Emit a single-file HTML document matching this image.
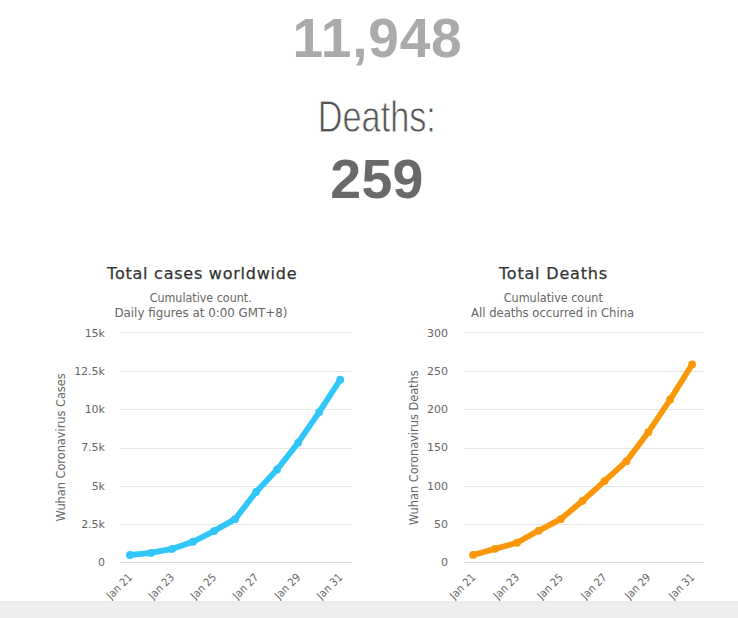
<!DOCTYPE html>
<html><head><meta charset="utf-8"><title>Coronavirus</title>
<style>
html,body{margin:0;padding:0;background:#fff;}
body{width:738px;height:618px;position:relative;overflow:hidden;font-family:"Liberation Sans",sans-serif;}
.num{position:absolute;left:0;width:738px;text-align:center;font-weight:bold;font-size:54.5px;line-height:56px;white-space:nowrap;letter-spacing:0.9px;}
#n1{top:10.1px;color:#aaa;left:8.5px;font-size:55px;letter-spacing:0.8px}
#n2{top:151px;color:#696969;left:8px;font-size:55.5px;letter-spacing:0.3px}
#dl{position:absolute;left:8px;width:738px;text-align:center;top:94px;font-size:44px;line-height:45px;color:#555;white-space:nowrap;}
#dl span{display:inline-block;transform:scaleX(0.778);transform-origin:50% 50%;-webkit-text-stroke:0.8px #fff;}
#foot{position:absolute;left:0;top:601px;width:738px;height:15px;background:#eee;border-top:2px solid #ebebeb;}
svg{position:absolute;left:0;top:0;}
svg text{font-family:"DejaVu Sans","Liberation Sans",sans-serif;}
.al{font-size:11px;fill:#666;}
.ti{font-size:16px;fill:#333;stroke:#333;stroke-width:0.25px;}
.su{font-size:12px;fill:#666;}
.yt{font-size:12px;fill:#666;}
</style></head><body>
<div class="num" id="n1">11,948</div>
<div id="dl"><span>Deaths:</span></div>
<div class="num" id="n2">259</div>
<svg width="738" height="618" viewBox="0 0 738 618">
<path d="M120 332.5H352" stroke="#e6e6e6" stroke-width="1"/>
<path d="M120 371.5H352" stroke="#e6e6e6" stroke-width="1"/>
<path d="M120 409.5H352" stroke="#e6e6e6" stroke-width="1"/>
<path d="M120 448.5H352" stroke="#e6e6e6" stroke-width="1"/>
<path d="M120 486.5H352" stroke="#e6e6e6" stroke-width="1"/>
<path d="M120 524.5H352" stroke="#e6e6e6" stroke-width="1"/>
<path d="M120 562.5H352" stroke="#d0d5e2" stroke-width="1"/>
<text x="105" y="337.00" text-anchor="end" class="al">15k</text>
<text x="105" y="375.13" text-anchor="end" class="al">12.5k</text>
<text x="105" y="413.26" text-anchor="end" class="al">10k</text>
<text x="105" y="451.39" text-anchor="end" class="al">7.5k</text>
<text x="105" y="489.52" text-anchor="end" class="al">5k</text>
<text x="105" y="527.65" text-anchor="end" class="al">2.5k</text>
<text x="105" y="565.78" text-anchor="end" class="al">0</text>
<path d="M129.90 555.00 L150.93 552.96 L171.96 548.92 L192.99 541.73 L214.02 531.09 L235.05 519.13 L256.08 491.99 L277.11 469.48 L298.14 442.73 L319.17 412.10 L340.20 379.71" fill="none" stroke="#30c6fa" stroke-width="5.8" stroke-linejoin="round" stroke-linecap="round"/>
<circle cx="129.90" cy="555.00" r="3.9" fill="#30c6fa"/>
<circle cx="150.93" cy="552.96" r="3.9" fill="#30c6fa"/>
<circle cx="171.96" cy="548.92" r="3.9" fill="#30c6fa"/>
<circle cx="192.99" cy="541.73" r="3.9" fill="#30c6fa"/>
<circle cx="214.02" cy="531.09" r="3.9" fill="#30c6fa"/>
<circle cx="235.05" cy="519.13" r="3.9" fill="#30c6fa"/>
<circle cx="256.08" cy="491.99" r="3.9" fill="#30c6fa"/>
<circle cx="277.11" cy="469.48" r="3.9" fill="#30c6fa"/>
<circle cx="298.14" cy="442.73" r="3.9" fill="#30c6fa"/>
<circle cx="319.17" cy="412.10" r="3.9" fill="#30c6fa"/>
<circle cx="340.20" cy="379.71" r="3.9" fill="#30c6fa"/>
<text transform="translate(132.90 578) rotate(-45)" text-anchor="end" textLength="31" lengthAdjust="spacingAndGlyphs" class="al">Jan 21</text>
<text transform="translate(174.96 578) rotate(-45)" text-anchor="end" textLength="31" lengthAdjust="spacingAndGlyphs" class="al">Jan 23</text>
<text transform="translate(217.02 578) rotate(-45)" text-anchor="end" textLength="31" lengthAdjust="spacingAndGlyphs" class="al">Jan 25</text>
<text transform="translate(259.08 578) rotate(-45)" text-anchor="end" textLength="31" lengthAdjust="spacingAndGlyphs" class="al">Jan 27</text>
<text transform="translate(301.14 578) rotate(-45)" text-anchor="end" textLength="31" lengthAdjust="spacingAndGlyphs" class="al">Jan 29</text>
<text transform="translate(343.20 578) rotate(-45)" text-anchor="end" textLength="31" lengthAdjust="spacingAndGlyphs" class="al">Jan 31</text>
<text x="201.8" y="279.3" text-anchor="middle" textLength="189.4" lengthAdjust="spacing" class="ti">Total cases worldwide</text>
<text x="200.7" y="302" text-anchor="middle" textLength="102" lengthAdjust="spacingAndGlyphs" class="su">Cumulative count.</text>
<text x="200.9" y="317" text-anchor="middle" textLength="173" lengthAdjust="spacingAndGlyphs" class="su">Daily figures at 0:00 GMT+8)</text>
<text transform="translate(65.3 447.4) rotate(-90)" text-anchor="middle" textLength="148" lengthAdjust="spacingAndGlyphs" class="yt">Wuhan Coronavirus Cases</text>
<path d="M464 332.5H704" stroke="#e6e6e6" stroke-width="1"/>
<path d="M464 371.5H704" stroke="#e6e6e6" stroke-width="1"/>
<path d="M464 409.5H704" stroke="#e6e6e6" stroke-width="1"/>
<path d="M464 448.5H704" stroke="#e6e6e6" stroke-width="1"/>
<path d="M464 486.5H704" stroke="#e6e6e6" stroke-width="1"/>
<path d="M464 524.5H704" stroke="#e6e6e6" stroke-width="1"/>
<path d="M464 562.5H704" stroke="#d0d5e2" stroke-width="1"/>
<text x="448" y="337.00" text-anchor="end" class="al">300</text>
<text x="448" y="375.13" text-anchor="end" class="al">250</text>
<text x="448" y="413.26" text-anchor="end" class="al">200</text>
<text x="448" y="451.39" text-anchor="end" class="al">150</text>
<text x="448" y="489.52" text-anchor="end" class="al">100</text>
<text x="448" y="527.65" text-anchor="end" class="al">50</text>
<text x="448" y="565.78" text-anchor="end" class="al">0</text>
<path d="M473.10 554.94 L495.00 548.85 L516.90 542.75 L538.80 530.56 L560.70 519.13 L582.60 500.84 L604.50 481.03 L626.40 461.22 L648.30 432.26 L670.20 399.49 L692.10 364.44" fill="none" stroke="#fc970a" stroke-width="5.8" stroke-linejoin="round" stroke-linecap="round"/>
<circle cx="473.10" cy="554.94" r="3.9" fill="#fc970a"/>
<circle cx="495.00" cy="548.85" r="3.9" fill="#fc970a"/>
<circle cx="516.90" cy="542.75" r="3.9" fill="#fc970a"/>
<circle cx="538.80" cy="530.56" r="3.9" fill="#fc970a"/>
<circle cx="560.70" cy="519.13" r="3.9" fill="#fc970a"/>
<circle cx="582.60" cy="500.84" r="3.9" fill="#fc970a"/>
<circle cx="604.50" cy="481.03" r="3.9" fill="#fc970a"/>
<circle cx="626.40" cy="461.22" r="3.9" fill="#fc970a"/>
<circle cx="648.30" cy="432.26" r="3.9" fill="#fc970a"/>
<circle cx="670.20" cy="399.49" r="3.9" fill="#fc970a"/>
<circle cx="692.10" cy="364.44" r="3.9" fill="#fc970a"/>
<text transform="translate(476.10 578) rotate(-45)" text-anchor="end" textLength="31" lengthAdjust="spacingAndGlyphs" class="al">Jan 21</text>
<text transform="translate(519.90 578) rotate(-45)" text-anchor="end" textLength="31" lengthAdjust="spacingAndGlyphs" class="al">Jan 23</text>
<text transform="translate(563.70 578) rotate(-45)" text-anchor="end" textLength="31" lengthAdjust="spacingAndGlyphs" class="al">Jan 25</text>
<text transform="translate(607.50 578) rotate(-45)" text-anchor="end" textLength="31" lengthAdjust="spacingAndGlyphs" class="al">Jan 27</text>
<text transform="translate(651.30 578) rotate(-45)" text-anchor="end" textLength="31" lengthAdjust="spacingAndGlyphs" class="al">Jan 29</text>
<text transform="translate(695.10 578) rotate(-45)" text-anchor="end" textLength="31" lengthAdjust="spacingAndGlyphs" class="al">Jan 31</text>
<text x="553" y="279.3" text-anchor="middle" textLength="108.2" lengthAdjust="spacing" class="ti">Total Deaths</text>
<text x="553.3" y="302" text-anchor="middle" textLength="99" lengthAdjust="spacingAndGlyphs" class="su">Cumulative count</text>
<text x="552.6" y="317" text-anchor="middle" textLength="163" lengthAdjust="spacingAndGlyphs" class="su">All deaths occurred in China</text>
<text transform="translate(417.5 447.8) rotate(-90)" text-anchor="middle" textLength="155" lengthAdjust="spacingAndGlyphs" class="yt">Wuhan Coronavirus Deaths</text>
</svg>
<div id="foot"></div>
</body></html>
